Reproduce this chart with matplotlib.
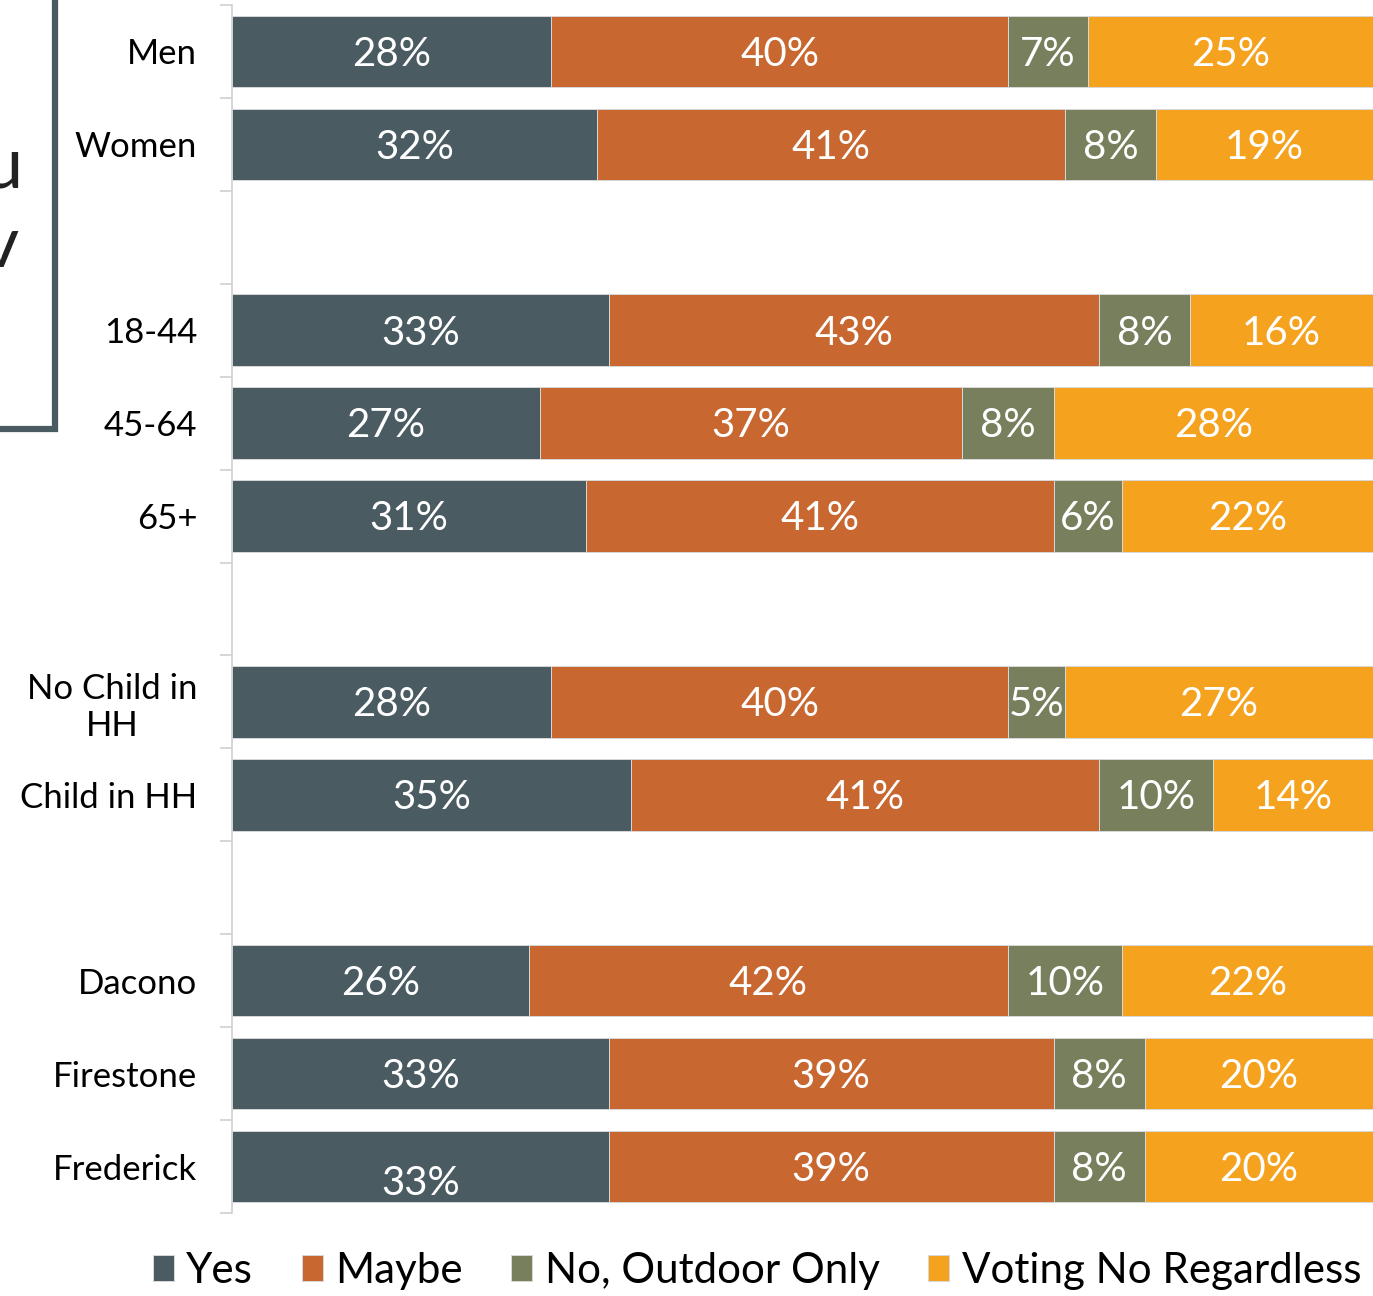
import numpy as np
import matplotlib.pyplot as plt
from matplotlib.patches import Rectangle

plt.rcParams['font.family'] = ['Lato', 'DejaVu Sans']

# Data (blank entries are spacer rows between groups)
categories = ['Men', 'Women', '', '18-44', '45-64', '65+', '',
              'No Child in\nHH', 'Child in HH', '', 'Dacono', 'Firestone', 'Frederick']
yes = [28, 32, None, 33, 27, 31, None, 28, 35, None, 26, 33, 33]
maybe = [40, 41, None, 43, 37, 41, None, 40, 41, None, 42, 39, 39]
no_outdoor = [7, 8, None, 8, 8, 6, None, 5, 10, None, 10, 8, 8]
voting_no = [25, 19, None, 16, 28, 22, None, 27, 14, None, 22, 20, 20]

series_names = ['Yes', 'Maybe', 'No, Outdoor Only', 'Voting No Regardless']
colors = ['#4A5B62', '#C86730', '#787F5C', '#F5A21E']

fig = plt.figure(figsize=(13.73, 12.96), dpi=100)
ax = fig.add_axes([232 / 1373, 1 - 1213 / 1296, 1 - 232 / 1373, (1213 - 5) / 1296])

n = len(categories)
y = np.arange(n)
left = np.zeros(n)
for name, vals, col in zip(series_names, [yes, maybe, no_outdoor, voting_no], colors):
    v = np.array([np.nan if x is None else x for x in vals], dtype=float)
    mask = ~np.isnan(v)
    ax.barh(y[mask], v[mask], left=left[mask], height=0.77, color=col,
            edgecolor='#d8d8d8', linewidth=0.7, label=name)
    for i, yy in enumerate(y[mask]):
        # the Frederick "Yes" label sits lower in the original
        dy = -12 if (categories[yy] == 'Frederick' and name == 'Yes') else -2
        ax.annotate(f'{int(v[mask][i])}%', (left[mask][i] + v[mask][i] / 2, yy),
                    xytext=(0, dy), textcoords='offset points',
                    ha='center', va='center', color='white', fontsize=29)
    left[mask] += v[mask]

ax.set_xlim(0, 100)
ax.set_ylim(n - 0.5, -0.5)
ax.set_xticks([])
ax.set_yticks(y)
ax.set_yticklabels(categories, fontsize=25, multialignment='center')
ax.set_yticks(np.arange(-0.5, n, 1), minor=True)
ax.tick_params(axis='y', which='major', length=0, pad=25)
ax.tick_params(axis='y', which='minor', length=9, color='#d0d0d0', width=1.2)
for s in ['top', 'right', 'bottom']:
    ax.spines[s].set_visible(False)
ax.spines['left'].set_color('#d0d0d0')
ax.spines['left'].set_linewidth(1.2)

# Partly visible text box at the left edge of the slide
fig.patches.append(Rectangle((-0.1, 1 - 428.5 / 1296), 0.1 + 54.5 / 1373, 0.5,
                             transform=fig.transFigure, fill=False,
                             edgecolor='#4A5B62', linewidth=4.5))
fig.text(23 / 1373, 1 - 188 / 1296, 'u', ha='right', va='baseline', fontsize=52, color='#222222')
fig.text(18 / 1373, 1 - 267 / 1296, 'v', ha='right', va='baseline', fontsize=52, color='#222222')

fig.legend(loc='center', bbox_to_anchor=(757 / 1373, 1 - 1271 / 1296), ncol=4,
           frameon=False, fontsize=30.3, handlelength=0.5, handleheight=0.55,
           handletextpad=0.3, columnspacing=1.15, borderaxespad=0)

fig.savefig('out.png', dpi=100)
